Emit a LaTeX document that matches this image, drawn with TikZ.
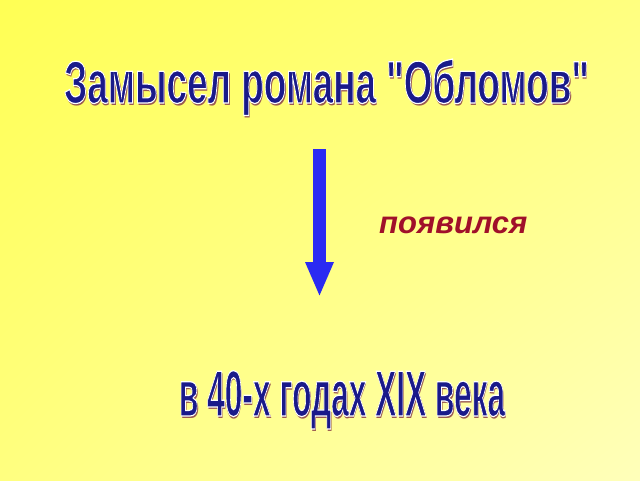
\documentclass[tikz,border=0pt]{standalone}
\usepackage{fontspec}
\setmainfont{Liberation Sans}
\usetikzlibrary{arrows.meta, shadings}
\definecolor{wordblue}{HTML}{1A1A8A}
\definecolor{wordshadow}{HTML}{9A5A50}
\definecolor{arrowblue}{HTML}{2A2AF2}
\definecolor{verbred}{HTML}{A0102A}
\newcommand{\wordart}[1]{\rlap{\hspace{2.4pt}\raisebox{-2.4pt}{\textcolor{wordshadow}{#1}}}{\color{wordblue}\special{pdf:literal direct 1.2 w 1 1 1 RG 2 Tr}#1\special{pdf:literal direct 0 Tr}}}
\begin{document}
\begin{tikzpicture}[x=1pt, y=-1pt,
  heading/.style={inner sep=0pt, anchor=base, font=\bfseries\fontsize{60}{62}\selectfont},
  answer/.style={inner sep=0pt, anchor=base, font=\bfseries\fontsize{65}{67}\selectfont},
  verb/.style={inner sep=0pt, anchor=base west, text=verbred, font=\bfseries\itshape\fontsize{31}{33}\selectfont}]
\useasboundingbox (0,0) rectangle (640,480);
\shade[upper left=yellow!67!white, upper right=yellow!50!white, lower left=yellow!50!white, lower right=yellow!27!white] (0,0) rectangle (640,480);
\node[heading] (title) at (326.5,103) {\scalebox{0.615}[1]{\wordart{Замысел романа \textquotedbl Обломов\textquotedbl}}};
\node[answer] (when) at (342,416) {\scalebox{0.487}[1]{\wordart{в 40-х годах XIX века}}};
\node[verb] (appeared) at (379,233) {появился};
\coordinate (arrtop) at (319.5,149);
\coordinate (arrtip) at (319.5,297);
\draw[arrowblue, line width=13pt, -{Triangle[width=26pt,length=35pt]}] (arrtop) -- (arrtip);
\end{tikzpicture}
\end{document}
